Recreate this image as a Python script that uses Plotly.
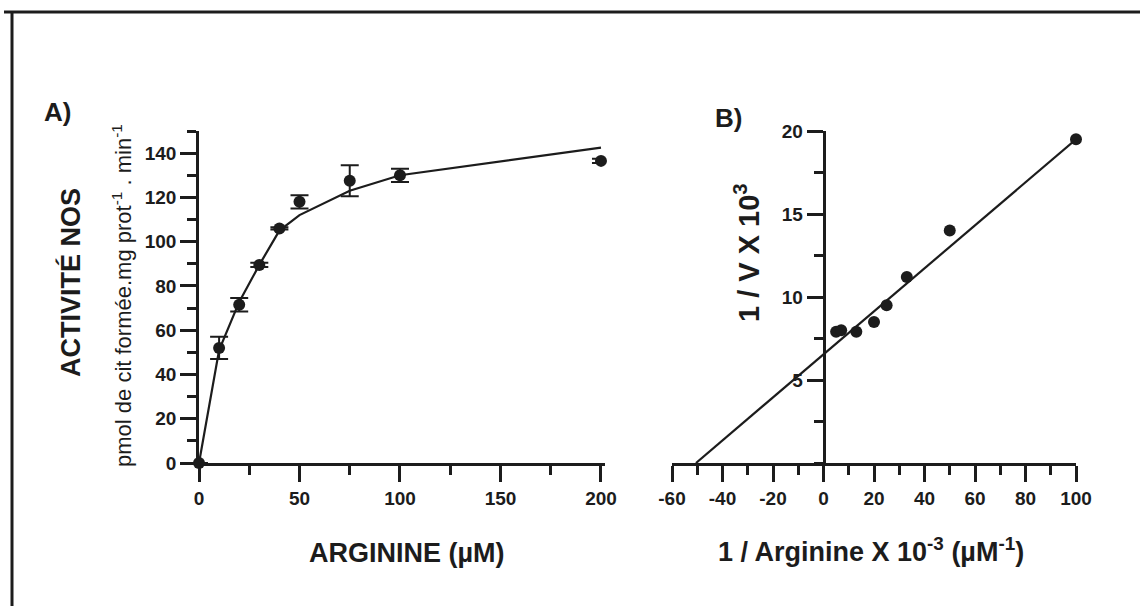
import plotly.graph_objects as go

# ---------------- data ----------------
# Panel A : NOS activity vs arginine
arg_conc = [0, 10, 20, 30, 40, 50, 75, 100, 200]
activity = [0, 52, 71.5, 89.5, 106, 118, 127.5, 130, 136.5]
activity_err = [0, 5, 3, 1, 0.5, 3, 7, 3, 1]
fit_a_x = [0, 10, 20, 30, 40, 50, 75, 100, 200]
fit_a_y = [0, 51, 72.8, 89.5, 105, 112, 123, 130, 142.5]

# Panel B : Lineweaver-Burk
inv_arg = [5, 7, 13, 20, 25, 33, 50, 100]
inv_v = [7.9, 8.0, 7.9, 8.5, 9.5, 11.2, 14.0, 19.5]
fit_b_x = [-50.5, 100]
fit_b_y = [0, 19.5]

a_xticks = [0, 50, 100, 150, 200]
a_yticks = [0, 20, 40, 60, 80, 100, 120, 140]
b_xticks = [-60, -40, -20, 0, 20, 40, 60, 80, 100]
b_xticklabels = ["-60", "-40", "-20", "0", "20", "40", "60", "80", "100"]
b_yticks = [5, 10, 15, 20]

# ---------------- layout helpers ----------------
W, H = 1140, 606
INK = "#1c1c1c"
FONT = "Liberation Sans, Arial, sans-serif"


def px(x):
    return x / W


def py(y):
    return 1 - y / H


a_dom_x = [px(199), px(605)]
b_dom_x = [px(672), px(1076)]
dom_y = [py(463), py(131)]
b_xrange = [-60, 100]
b_yaxis_pos = b_dom_x[0] + (0 - b_xrange[0]) / (b_xrange[1] - b_xrange[0]) * (b_dom_x[1] - b_dom_x[0])

fig = go.Figure()

fig.add_trace(go.Scatter(
    x=fit_a_x, y=fit_a_y, mode="lines",
    line=dict(color=INK, width=2.2), xaxis="x", yaxis="y",
    showlegend=False, hoverinfo="skip", cliponaxis=False))
fig.add_trace(go.Scatter(
    x=arg_conc, y=activity, mode="markers",
    marker=dict(color=INK, size=12),
    error_y=dict(type="data", array=activity_err, visible=True,
                 color=INK, thickness=2, width=9),
    xaxis="x", yaxis="y", showlegend=False, cliponaxis=False))

fig.add_trace(go.Scatter(
    x=fit_b_x, y=fit_b_y, mode="lines",
    line=dict(color=INK, width=2.2), xaxis="x2", yaxis="y2",
    showlegend=False, hoverinfo="skip", cliponaxis=False))
fig.add_trace(go.Scatter(
    x=inv_arg, y=inv_v, mode="markers",
    marker=dict(color=INK, size=12),
    xaxis="x2", yaxis="y2", showlegend=False, cliponaxis=False))

tickfont = dict(family=FONT, size=19, color=INK, weight="bold")
axis_common = dict(showgrid=False, zeroline=False, showline=True,
                   automargin=False,
                   linecolor=INK, linewidth=2.5, ticks="outside",
                   ticklen=16, tickwidth=2.5, tickcolor=INK,
                   tickfont=tickfont)

fig.update_layout(
    width=W, height=H, autosize=False,
    margin=dict(l=0, r=0, t=0, b=0, pad=0, autoexpand=False),
    paper_bgcolor="white", plot_bgcolor="white",
    xaxis=dict(domain=a_dom_x, range=[0, 202], anchor="y",
               tickvals=a_xticks,
               minor=dict(dtick=25, tick0=0, ticks="outside", ticklen=9,
                          tickwidth=2.5, tickcolor=INK),
               **axis_common),
    yaxis=dict(domain=dom_y, range=[0, 150], anchor="x",
               tickvals=a_yticks,
               minor=dict(dtick=10, tick0=0, ticks="outside", ticklen=9,
                          tickwidth=2.5, tickcolor=INK),
               **axis_common),
    xaxis2=dict(domain=b_dom_x, range=b_xrange, anchor="y2",
                tickvals=b_xticks, ticktext=b_xticklabels,
                minor=dict(dtick=10, tick0=0, ticks="outside", ticklen=9,
                           tickwidth=2.5, tickcolor=INK),
                **axis_common),
    yaxis2=dict(domain=dom_y, range=[0, 20], anchor="free",
                position=b_yaxis_pos,
                tickvals=b_yticks,
                minor=dict(dtick=2.5, tick0=0, ticks="outside", ticklen=9,
                           tickwidth=2.5, tickcolor=INK),
                **axis_common),
)


def ann(text, x, y, size, bold=True, angle=0):
    fig.add_annotation(
        text=text, x=px(x), y=py(y), xref="paper", yref="paper",
        xanchor="center", yanchor="middle", showarrow=False,
        textangle=angle,
        font=dict(family=FONT, size=size, color=INK,
                  weight="bold" if bold else "normal"))


ann("A)", 57, 112, 26)
ann("B)", 728, 118, 26)
ann("ACTIVITÉ NOS", 70, 283, 27, angle=-90)
ann("pmol de cit formée.mg prot<sup>-1</sup> . min<sup>-1</sup>", 122, 296, 22,
    bold=False, angle=-90)
ann("ARGININE (µM)", 407, 553, 27)
ann("1 / Arginine X 10<sup>-3</sup> (µM<sup>-1</sup>)", 871, 550, 27)
ann("1 / V X 10<sup>3</sup>", 747, 253, 29, angle=-90)

# page frame (top and left border of the scanned figure)
fig.add_shape(type="line", xref="paper", yref="paper",
              x0=px(4), x1=1, y0=py(12), y1=py(12),
              line=dict(color=INK, width=3))
fig.add_shape(type="line", xref="paper", yref="paper",
              x0=px(12), x1=px(12), y0=py(12), y1=0,
              line=dict(color=INK, width=3))

fig.write_html("out.html")
